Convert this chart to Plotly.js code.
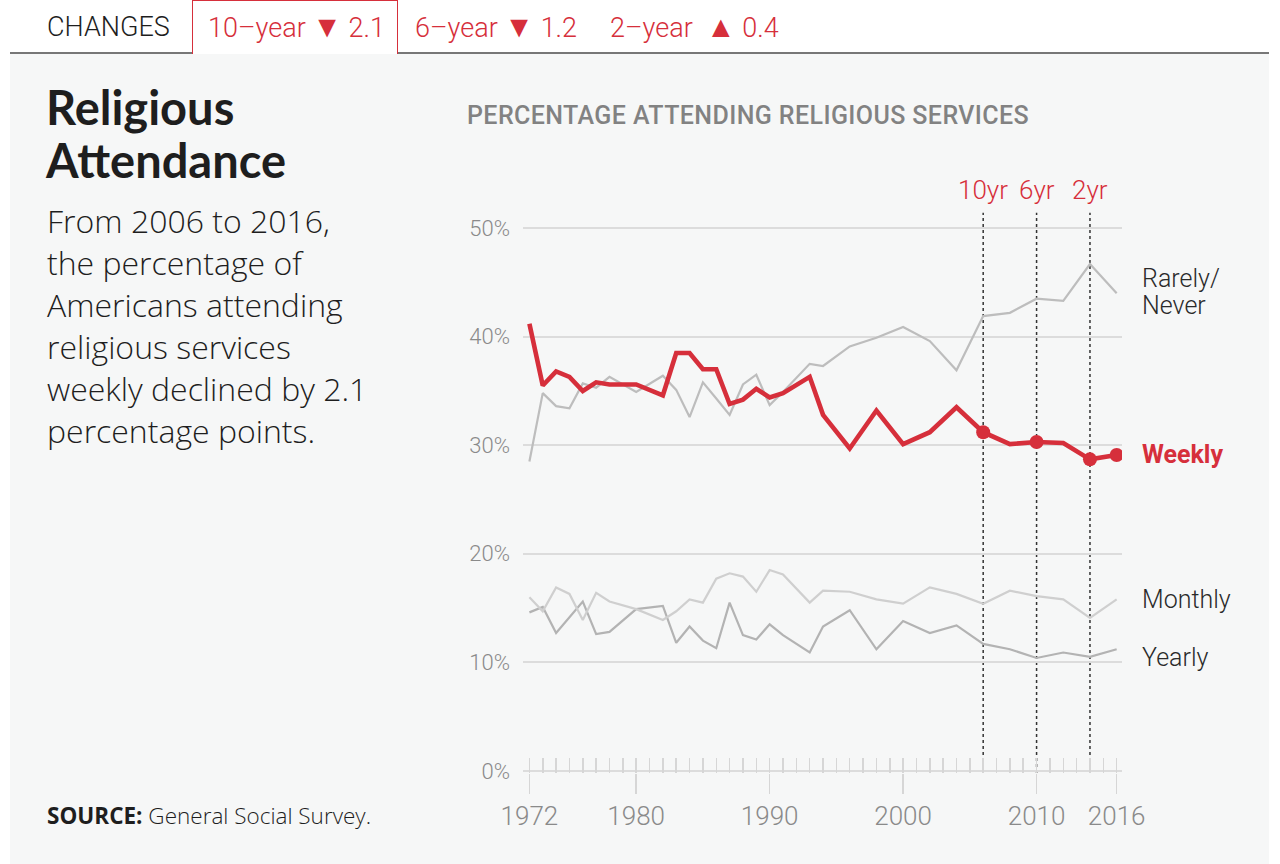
<!DOCTYPE html>
<html>
<head>
<meta charset="utf-8">
<script src="https://cdn.plot.ly/plotly-3.0.1.min.js"></script>
<style>
  html, body { margin:0; padding:0; background:#ffffff; }
  body { width:1280px; height:864px; position:relative; overflow:hidden; font-family: Roboto, "Open Sans", sans-serif; }
  #panel { position:absolute; left:10px; top:52px; width:1259px; height:812px; background:#f6f7f7; border-top:2.5px solid #777; box-sizing:border-box; }
  #tabbox { position:absolute; left:192px; top:0px; width:206px; height:54px; border:1.5px solid #d62f3b; border-bottom:none; box-sizing:border-box; background:#fff; }
  .tab { position:absolute; top:8px; font-size:27px; font-weight:300; line-height:38px; white-space:nowrap; }
  .red { color:#d62f3b; }
  .tri { font-size:30px; }
  #title { position:absolute; left:46px; top:81px; font-family: Lato, Roboto, sans-serif; font-weight:700; font-size:47px; line-height:53px; color:#1e1e1e; }
  #desc { position:absolute; left:47px; top:200px; font-family:"Open Sans", Roboto, sans-serif; font-size:32px; font-weight:300; line-height:42px; color:#1e1e1e; }
  #sub { position:absolute; left:467px; top:101px; font-size:25px; font-weight:500; color:#828282; line-height:30px; white-space:nowrap; letter-spacing:0.4px; }
  #source { position:absolute; left:47px; top:802px; font-family:"Open Sans", Roboto, sans-serif; font-size:22.5px; font-weight:300; color:#1e1e1e; line-height:28px; }
  #source b { font-weight:700; }
  #chart { position:absolute; left:0; top:0; width:1280px; height:864px; }
</style>
</head>
<body>
<div id="panel"></div>
<div id="tabbox"></div>
<div class="tab" style="left:47px; color:#1e1e1e;">CHANGES</div>
<div class="tab red" style="left:208px;">10–year <span class="tri">▼</span> 2.1</div>
<div class="tab red" style="left:415px;">6–year <span class="tri">▼</span> 1.2</div>
<div class="tab red" style="left:610px;">2–year &nbsp;<span class="tri">▲</span> 0.4</div>
<div id="title">Religious<br>Attendance</div>
<div id="desc">From 2006 to 2016,<br>the percentage of<br>Americans attending<br>religious services<br>weekly declined by 2.1<br>percentage points.</div>
<div id="sub">PERCENTAGE ATTENDING RELIGIOUS SERVICES</div>
<div id="source"><b>SOURCE:</b> General Social Survey.</div>
<div id="chart"></div>
<script>
// ---- data (percent) ----
const years   = [1972,1973,1974,1975,1976,1977,1978,1980,1982,1983,1984,1985,1986,1987,1988,1989,1990,1991,1993,1994,1996,1998,2000,2002,2004,2006,2008,2010,2012,2014,2016];
const weekly  = [41.2,35.5,36.8,36.3,35.0,35.8,35.6,35.6,34.6,38.5,38.5,37.0,37.0,33.8,34.2,35.2,34.4,34.8,36.3,32.8,29.7,33.2,30.1,31.2,33.5,31.2,30.1,30.3,30.2,28.7,29.1];
const rarely  = [28.5,34.8,33.6,33.4,35.7,35.3,36.3,34.9,36.4,35.1,32.6,35.8,34.3,32.8,35.6,36.5,33.7,34.9,37.5,37.3,39.1,39.9,40.9,39.6,36.9,41.9,42.2,43.5,43.3,46.7,44.0];
const monthly = [16.0,14.7,16.9,16.3,13.9,16.4,15.6,14.9,13.9,14.7,15.8,15.5,17.7,18.2,17.9,16.5,18.5,18.1,15.5,16.6,16.5,15.8,15.4,16.9,16.3,15.4,16.6,16.1,15.8,14.1,15.8];
const yearly  = [14.6,15.1,12.7,14.2,15.6,12.6,12.8,14.9,15.2,11.8,13.3,12.0,11.3,15.5,12.5,12.1,13.5,12.5,10.9,13.3,14.8,11.2,13.8,12.7,13.4,11.7,11.2,10.4,10.9,10.5,11.2];
const markYears  = [2006, 2010, 2014];
const markLabels = ['10yr', '6yr', '2yr'];
const majorTicks = [1972, 1980, 1990, 2000, 2010, 2016];
const yTicks     = [0, 10, 20, 30, 40, 50];
const yTickText  = ['0%', '10%', '20%', '30%', '40%', '50%'];
const seriesNames = ['Rarely/<br>Never', 'Weekly', 'Monthly', 'Yearly'];

const RED = '#d62f3b';
const dotYears = markYears.concat([years[years.length - 1]]);
const dotVals = dotYears.map(y => weekly[years.indexOf(y)]);
const last = a => a[a.length - 1];

const traces = [
  {x: years, y: rarely,  type:'scatter', mode:'lines', line:{color:'#bdbdbd', width:2.2}, hoverinfo:'skip'},
  {x: years, y: monthly, type:'scatter', mode:'lines', line:{color:'#cfcfcf', width:2.2}, hoverinfo:'skip', xaxis:'x2'},
  {x: years, y: yearly,  type:'scatter', mode:'lines', line:{color:'#b3b3b3', width:2.2}, hoverinfo:'skip'},
  {x: years, y: weekly,  type:'scatter', mode:'lines', line:{color:RED, width:4.6}, hoverinfo:'skip'},
  {x: dotYears, y: dotVals, type:'scatter', mode:'markers', marker:{color:RED, size:14}, hoverinfo:'skip'}
];

const xr = [1971.52, 2016.4];
const shapes = markYears.map(y => ({
  type:'line', xref:'x', yref:'paper', x0:y, x1:y, y0:0, y1:1.024,
  line:{color:'#333', width:1.5, dash:'dot'}, layer:'below'
}));

const annotations = markYears.map((y, i) => ({
  x:y, xref:'x', y:1.066, yref:'paper', text:markLabels[i], showarrow:false,
  font:{family:'Roboto', size:26, color:RED, weight:300}, xanchor:'center', yanchor:'middle'
}));
const labelFont = {family:'Roboto', size:25, color:'#2a2a2a', weight:300};
const rnParts = seriesNames[0].split('<br>');
annotations.push(
  {x:last(years), y:last(rarely), text:rnParts[0], showarrow:false, xanchor:'left', yanchor:'middle', xshift:23, yshift:15, align:'left', font:labelFont},
  {x:last(years), y:last(rarely), text:rnParts[1], showarrow:false, xanchor:'left', yanchor:'middle', xshift:23, yshift:-12, align:'left', font:labelFont},
  {x:last(years), y:last(weekly), text:'<b>' + seriesNames[1] + '</b>', showarrow:false, xanchor:'left', yanchor:'middle', xshift:23, yshift:1, align:'left', font:{family:'Roboto', size:25, color:RED}},
  {x:last(years), y:last(monthly), text:seriesNames[2], showarrow:false, xanchor:'left', yanchor:'middle', xshift:23, yshift:0, align:'left', font:labelFont},
  {x:last(years), y:last(yearly), text:seriesNames[3], showarrow:false, xanchor:'left', yanchor:'middle', xshift:23, yshift:-8, align:'left', font:labelFont}
);

const layout = {
  width:1280, height:864,
  margin:{l:523, r:158, t:226, b:91, pad:0},
  paper_bgcolor:'rgba(0,0,0,0)', plot_bgcolor:'rgba(0,0,0,0)',
  showlegend:false,
  font:{family:'Roboto', color:'#888'},
  xaxis:{range:xr, tickmode:'array', tickvals:majorTicks, ticks:'outside', ticklen:20, tickwidth:1.5, tickcolor:'#d6d6d6',
         showgrid:false, zeroline:false, showline:false, fixedrange:true,
         tickfont:{family:'Roboto', size:26, color:'#8a8a8a', weight:300}},
  xaxis2:{range:xr, overlaying:'x', anchor:'y', side:'bottom', tickmode:'linear', tick0:1972, dtick:1, ticks:'inside', ticklen:15,
          tickwidth:1.5, tickcolor:'#d6d6d6', showticklabels:false, showgrid:false, zeroline:false, showline:false, fixedrange:true},
  yaxis:{range:[-0.2,50.2], tickmode:'array', tickvals:yTicks, ticktext:yTickText, showgrid:true, gridcolor:'#dcdcdc', gridwidth:1.6,
         zeroline:false, showline:false, ticks:'', ticklabelstandoff:12, fixedrange:true,
         tickfont:{family:'Roboto', size:22, color:'#8a8a8a', weight:300}},
  shapes:shapes,
  annotations:annotations
};

Plotly.newPlot('chart', traces, layout, {staticPlot:true, displayModeBar:false});
</script>
</body>
</html>
